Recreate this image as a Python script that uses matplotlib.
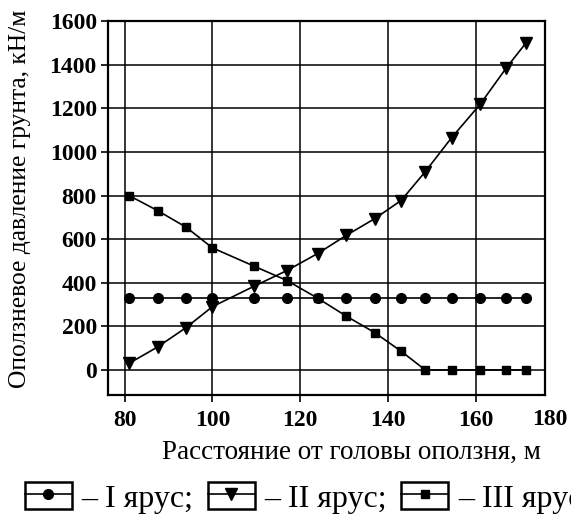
import matplotlib
matplotlib.use('Agg')
import matplotlib.pyplot as plt
from matplotlib.lines import Line2D
from matplotlib.patches import Rectangle
from matplotlib.legend_handler import HandlerLine2D

plt.rcParams['font.family'] = ['Liberation Serif', 'DejaVu Serif']

# distance from landslide head, m
dist = [81, 87.5, 94, 100, 109.5, 117, 124, 130.5, 137, 143, 148.5, 154.5, 161, 167, 171.5]
# landslide pressure, kN/m
tier1 = [330, 330, 330, 330, 330, 330, 330, 330, 330, 330, 330, 330, 330, 330, 330]
tier2 = [30, 105, 194, 290, 384, 456, 534, 617, 694, 777, 909, 1065, 1218, 1386, 1501]
tier3 = [800, 731, 655, 560, 476, 410, 329, 247, 171, 86, 0, 0, 0, 0, 0]

labels = ['– I ярус;', '– II ярус;', '– III ярус']
xticks = [80, 100, 120, 140, 160]
yticks = [0, 200, 400, 600, 800, 1000, 1200, 1400, 1600]


class BoxedHandler(HandlerLine2D):
    """Line + marker drawn inside a small rectangle, like in the paper."""
    def create_artists(self, legend, orig_handle, xdescent, ydescent,
                       width, height, fontsize, trans):
        arts = super().create_artists(legend, orig_handle, xdescent, ydescent,
                                      width, height, fontsize, trans)
        box = Rectangle((-xdescent, -ydescent), width, height, fill=False,
                        ec='black', lw=1.8, transform=trans)
        return [box] + list(arts)


fig = plt.figure(figsize=(5.71, 5.15), dpi=100)
ax = fig.add_axes([0.189, 0.233, 0.7655, 0.726])

l1, = ax.plot(dist, tier1, color='black', lw=1.2, marker='o', ms=7)
l2, = ax.plot(dist, tier2, color='black', lw=1.2, marker='v', ms=8)
l3, = ax.plot(dist, tier3, color='black', lw=1.2, marker='s', ms=6.3)

ax.set_xlim(76.2, 175.8)
ax.set_ylim(-115, 1600)
ax.set_xticks(xticks)
ax.set_yticks(yticks)
ax.grid(True, color='black', lw=1.1)
ax.set_axisbelow(True)
for sp in ax.spines.values():
    sp.set_linewidth(1.6)
ax.tick_params(direction='out', length=5, width=1.2, labelsize=17, pad=3)
ax.tick_params(axis='x', pad=6)
for t in ax.get_xticklabels() + ax.get_yticklabels():
    t.set_fontweight('bold')

# the last x label sits past the right edge of the frame, pushed in to fit
fig.text(568 / 571, 1 - 409 / 515, '180', ha='right', va='top',
         fontsize=17, fontweight='bold')

ax.set_xlabel('Расстояние от головы оползня, м', fontsize=19.5)
ax.xaxis.set_label_coords(0.556, -0.12)
ax.set_ylabel('Оползневое давление грунта, кН/м', fontsize=18.4)
ax.yaxis.set_label_coords(-0.176, 0.524)

fig.legend([l1, l2, l3], labels, loc='center left',
           bbox_to_anchor=(25 / 571, 1 - 498 / 515), ncol=3, frameon=False,
           numpoints=1, fontsize=23, handlelength=1.47, handleheight=0.91,
           handletextpad=0.3, columnspacing=0.45, borderpad=0, borderaxespad=0,
           handler_map={Line2D: BoxedHandler()})

fig.savefig('out.png', dpi=100)
